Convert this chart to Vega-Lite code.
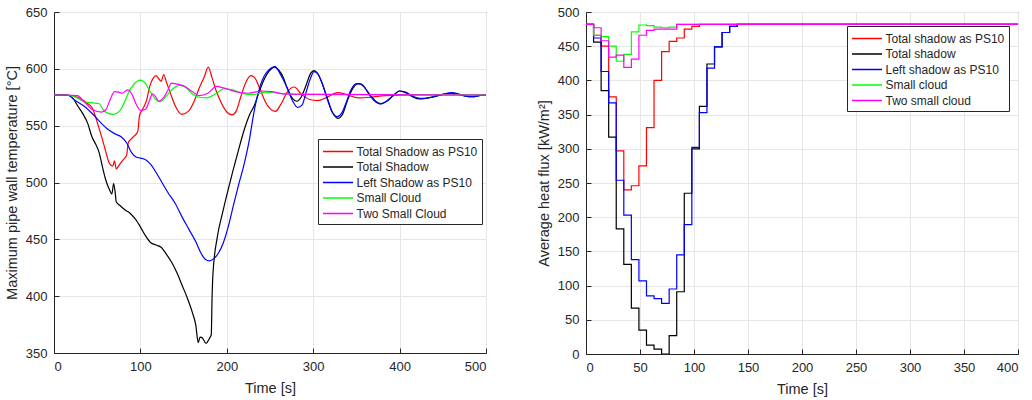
{
  "$schema": "https://vega.github.io/schema/vega-lite/v6.json",
  "autosize": {"type": "pad"},
  "padding": {"left": 3, "top": 5, "right": 5, "bottom": 5},
  "bounds": "flush",
  "spacing": 100,
  "config": {
    "font": "Liberation Sans",
    "view": {"stroke": "#262626", "strokeWidth": 1},
    "axis": {
      "domainColor": "#262626", "tickColor": "#262626", "gridColor": "#e6e6e6",
      "labelColor": "#262626", "titleColor": "#262626",
      "labelFont": "Liberation Sans", "titleFont": "Liberation Sans",
      "labelFontSize": 13, "titleFontSize": 14.5, "titleFontWeight": "normal",
      "tickSize": -5
    },
    "axisX": {"titlePadding": 8, "labelPadding": 12.5},
    "axisY": {"titlePadding": 6, "labelPadding": 12},
    "legend": {
      "labelFont": "Liberation Sans", "labelFontSize": 12, "labelColor": "#262626",
      "symbolType": "M-2,0H2", "symbolSize": 225, "symbolStrokeWidth": 1.5, "symbolOffset": 7.5,
      "strokeColor": "#262626", "fillColor": "white", "padding": 4,
      "rowPadding": 0.5, "labelOffset": 10, "cornerRadius": 0
    }
  },
  "datasets": {
    "temp": [
      {"series":"Total Shadow as PS10","time":0,"value":577},{"series":"Total Shadow as PS10","time":15,"value":577},{"series":"Total Shadow as PS10","time":30,"value":574},{"series":"Total Shadow as PS10","time":38,"value":570},{"series":"Total Shadow as PS10","time":44,"value":566},{"series":"Total Shadow as PS10","time":48,"value":558},{"series":"Total Shadow as PS10","time":52,"value":548},{"series":"Total Shadow as PS10","time":56,"value":538},{"series":"Total Shadow as PS10","time":60,"value":527},{"series":"Total Shadow as PS10","time":64,"value":517},{"series":"Total Shadow as PS10","time":68,"value":514.5},{"series":"Total Shadow as PS10","time":70,"value":519},{"series":"Total Shadow as PS10","time":72,"value":512},{"series":"Total Shadow as PS10","time":76,"value":516},{"series":"Total Shadow as PS10","time":80,"value":520},{"series":"Total Shadow as PS10","time":84,"value":524},{"series":"Total Shadow as PS10","time":86,"value":535},{"series":"Total Shadow as PS10","time":89,"value":538},{"series":"Total Shadow as PS10","time":93,"value":541},{"series":"Total Shadow as PS10","time":97,"value":545},{"series":"Total Shadow as PS10","time":99,"value":559},{"series":"Total Shadow as PS10","time":103,"value":565},{"series":"Total Shadow as PS10","time":107,"value":572},{"series":"Total Shadow as PS10","time":111,"value":585},{"series":"Total Shadow as PS10","time":115,"value":592},{"series":"Total Shadow as PS10","time":118,"value":594},{"series":"Total Shadow as PS10","time":121,"value":591.5},{"series":"Total Shadow as PS10","time":124,"value":589},{"series":"Total Shadow as PS10","time":127,"value":595},{"series":"Total Shadow as PS10","time":130,"value":588.5},{"series":"Total Shadow as PS10","time":135,"value":578},{"series":"Total Shadow as PS10","time":140,"value":568},{"series":"Total Shadow as PS10","time":148,"value":560},{"series":"Total Shadow as PS10","time":156,"value":563},{"series":"Total Shadow as PS10","time":162,"value":571},{"series":"Total Shadow as PS10","time":168,"value":583},{"series":"Total Shadow as PS10","time":174,"value":593},{"series":"Total Shadow as PS10","time":178.5,"value":601.5},{"series":"Total Shadow as PS10","time":183,"value":592},{"series":"Total Shadow as PS10","time":188,"value":580},{"series":"Total Shadow as PS10","time":193,"value":571},{"series":"Total Shadow as PS10","time":200,"value":562},{"series":"Total Shadow as PS10","time":206,"value":559.5},{"series":"Total Shadow as PS10","time":211,"value":563},{"series":"Total Shadow as PS10","time":216,"value":575},{"series":"Total Shadow as PS10","time":222,"value":588},{"series":"Total Shadow as PS10","time":228,"value":594},{"series":"Total Shadow as PS10","time":232,"value":592.5},{"series":"Total Shadow as PS10","time":238,"value":583},{"series":"Total Shadow as PS10","time":244,"value":572},{"series":"Total Shadow as PS10","time":250,"value":565},{"series":"Total Shadow as PS10","time":256,"value":562.5},{"series":"Total Shadow as PS10","time":262,"value":568},{"series":"Total Shadow as PS10","time":270,"value":579.5},{"series":"Total Shadow as PS10","time":278,"value":584},{"series":"Total Shadow as PS10","time":286,"value":578},{"series":"Total Shadow as PS10","time":296,"value":573},{"series":"Total Shadow as PS10","time":305,"value":572},{"series":"Total Shadow as PS10","time":316,"value":575},{"series":"Total Shadow as PS10","time":328,"value":579},{"series":"Total Shadow as PS10","time":340,"value":577},{"series":"Total Shadow as PS10","time":352,"value":574.5},{"series":"Total Shadow as PS10","time":367,"value":575},{"series":"Total Shadow as PS10","time":383,"value":576.5},{"series":"Total Shadow as PS10","time":420,"value":577},{"series":"Total Shadow as PS10","time":500,"value":577},

      {"series":"Total Shadow","time":0,"value":577},{"series":"Total Shadow","time":15,"value":577},{"series":"Total Shadow","time":22,"value":574},{"series":"Total Shadow","time":27,"value":568},{"series":"Total Shadow","time":33,"value":561},{"series":"Total Shadow","time":39,"value":552},{"series":"Total Shadow","time":44,"value":540},{"series":"Total Shadow","time":48,"value":534},{"series":"Total Shadow","time":52,"value":527},{"series":"Total Shadow","time":56,"value":514},{"series":"Total Shadow","time":60,"value":502},{"series":"Total Shadow","time":64,"value":494},{"series":"Total Shadow","time":67,"value":490},{"series":"Total Shadow","time":69,"value":499},{"series":"Total Shadow","time":71,"value":490},{"series":"Total Shadow","time":72,"value":483},{"series":"Total Shadow","time":76,"value":480},{"series":"Total Shadow","time":82,"value":476},{"series":"Total Shadow","time":88,"value":473},{"series":"Total Shadow","time":94,"value":468},{"series":"Total Shadow","time":100,"value":461},{"series":"Total Shadow","time":106,"value":453},{"series":"Total Shadow","time":112,"value":447},{"series":"Total Shadow","time":118,"value":445},{"series":"Total Shadow","time":124,"value":443},{"series":"Total Shadow","time":130,"value":437},{"series":"Total Shadow","time":136,"value":430},{"series":"Total Shadow","time":142,"value":421},{"series":"Total Shadow","time":148,"value":410},{"series":"Total Shadow","time":154,"value":399},{"series":"Total Shadow","time":160,"value":386},{"series":"Total Shadow","time":164,"value":375},{"series":"Total Shadow","time":167,"value":359},{"series":"Total Shadow","time":169,"value":364},{"series":"Total Shadow","time":172,"value":363},{"series":"Total Shadow","time":176,"value":358.5},{"series":"Total Shadow","time":180,"value":363},{"series":"Total Shadow","time":182,"value":366},{"series":"Total Shadow","time":183,"value":400},{"series":"Total Shadow","time":184,"value":420},{"series":"Total Shadow","time":189,"value":452},{"series":"Total Shadow","time":195,"value":473},{"series":"Total Shadow","time":201,"value":492},{"series":"Total Shadow","time":207,"value":510},{"series":"Total Shadow","time":213,"value":527},{"series":"Total Shadow","time":220,"value":546},{"series":"Total Shadow","time":226,"value":559},{"series":"Total Shadow","time":232,"value":568},{"series":"Total Shadow","time":238,"value":581},{"series":"Total Shadow","time":244,"value":592},{"series":"Total Shadow","time":250,"value":599},{"series":"Total Shadow","time":255,"value":601.5},{"series":"Total Shadow","time":260,"value":599},{"series":"Total Shadow","time":265,"value":593},{"series":"Total Shadow","time":270,"value":583},{"series":"Total Shadow","time":276,"value":574},{"series":"Total Shadow","time":281,"value":571.5},{"series":"Total Shadow","time":286,"value":575},{"series":"Total Shadow","time":292,"value":586},{"series":"Total Shadow","time":297,"value":596},{"series":"Total Shadow","time":301,"value":598.5},{"series":"Total Shadow","time":305,"value":596},{"series":"Total Shadow","time":310,"value":588},{"series":"Total Shadow","time":316,"value":575},{"series":"Total Shadow","time":322,"value":562},{"series":"Total Shadow","time":329,"value":556.5},{"series":"Total Shadow","time":334,"value":560},{"series":"Total Shadow","time":340,"value":573},{"series":"Total Shadow","time":346,"value":583},{"series":"Total Shadow","time":352,"value":587},{"series":"Total Shadow","time":357,"value":586},{"series":"Total Shadow","time":362,"value":581},{"series":"Total Shadow","time":368,"value":575},{"series":"Total Shadow","time":373,"value":571},{"series":"Total Shadow","time":378,"value":569.5},{"series":"Total Shadow","time":385,"value":571.5},{"series":"Total Shadow","time":392,"value":576},{"series":"Total Shadow","time":400,"value":580.5},{"series":"Total Shadow","time":407,"value":579},{"series":"Total Shadow","time":415,"value":575.5},{"series":"Total Shadow","time":423,"value":573.5},{"series":"Total Shadow","time":430,"value":574},{"series":"Total Shadow","time":440,"value":575.5},{"series":"Total Shadow","time":450,"value":577.5},{"series":"Total Shadow","time":460,"value":578.5},{"series":"Total Shadow","time":468,"value":577.5},{"series":"Total Shadow","time":476,"value":576},{"series":"Total Shadow","time":485,"value":575.5},{"series":"Total Shadow","time":492,"value":576.5},{"series":"Total Shadow","time":500,"value":577},

      {"series":"Left Shadow as PS10","time":0,"value":577},{"series":"Left Shadow as PS10","time":15,"value":577},{"series":"Left Shadow as PS10","time":25,"value":572},{"series":"Left Shadow as PS10","time":35,"value":567},{"series":"Left Shadow as PS10","time":45,"value":560},{"series":"Left Shadow as PS10","time":55,"value":552},{"series":"Left Shadow as PS10","time":62,"value":547},{"series":"Left Shadow as PS10","time":70,"value":543},{"series":"Left Shadow as PS10","time":78,"value":540},{"series":"Left Shadow as PS10","time":84,"value":535},{"series":"Left Shadow as PS10","time":90,"value":526},{"series":"Left Shadow as PS10","time":95,"value":522.5},{"series":"Left Shadow as PS10","time":100,"value":521.5},{"series":"Left Shadow as PS10","time":106,"value":520},{"series":"Left Shadow as PS10","time":112,"value":516},{"series":"Left Shadow as PS10","time":118,"value":509},{"series":"Left Shadow as PS10","time":125,"value":500},{"series":"Left Shadow as PS10","time":132,"value":491},{"series":"Left Shadow as PS10","time":140,"value":482},{"series":"Left Shadow as PS10","time":148,"value":470},{"series":"Left Shadow as PS10","time":156,"value":459},{"series":"Left Shadow as PS10","time":164,"value":448},{"series":"Left Shadow as PS10","time":170,"value":438},{"series":"Left Shadow as PS10","time":175,"value":432.5},{"series":"Left Shadow as PS10","time":180,"value":431},{"series":"Left Shadow as PS10","time":185,"value":433},{"series":"Left Shadow as PS10","time":190,"value":437.5},{"series":"Left Shadow as PS10","time":196,"value":447},{"series":"Left Shadow as PS10","time":202,"value":462},{"series":"Left Shadow as PS10","time":208,"value":481},{"series":"Left Shadow as PS10","time":214,"value":499},{"series":"Left Shadow as PS10","time":220,"value":516},{"series":"Left Shadow as PS10","time":226,"value":537},{"series":"Left Shadow as PS10","time":231,"value":560},{"series":"Left Shadow as PS10","time":236,"value":578},{"series":"Left Shadow as PS10","time":241,"value":590},{"series":"Left Shadow as PS10","time":246,"value":597},{"series":"Left Shadow as PS10","time":252,"value":601},{"series":"Left Shadow as PS10","time":256,"value":602},{"series":"Left Shadow as PS10","time":260,"value":598},{"series":"Left Shadow as PS10","time":265,"value":591},{"series":"Left Shadow as PS10","time":270,"value":583},{"series":"Left Shadow as PS10","time":276,"value":572},{"series":"Left Shadow as PS10","time":282,"value":566},{"series":"Left Shadow as PS10","time":287,"value":568},{"series":"Left Shadow as PS10","time":292,"value":580},{"series":"Left Shadow as PS10","time":297,"value":592},{"series":"Left Shadow as PS10","time":301,"value":597.5},{"series":"Left Shadow as PS10","time":305,"value":596},{"series":"Left Shadow as PS10","time":310,"value":588},{"series":"Left Shadow as PS10","time":316,"value":574},{"series":"Left Shadow as PS10","time":322,"value":562},{"series":"Left Shadow as PS10","time":328,"value":558},{"series":"Left Shadow as PS10","time":333,"value":561},{"series":"Left Shadow as PS10","time":338,"value":570},{"series":"Left Shadow as PS10","time":344,"value":582},{"series":"Left Shadow as PS10","time":350,"value":587},{"series":"Left Shadow as PS10","time":355,"value":586.5},{"series":"Left Shadow as PS10","time":360,"value":583},{"series":"Left Shadow as PS10","time":366,"value":576},{"series":"Left Shadow as PS10","time":372,"value":571},{"series":"Left Shadow as PS10","time":378,"value":569},{"series":"Left Shadow as PS10","time":385,"value":571.5},{"series":"Left Shadow as PS10","time":392,"value":576},{"series":"Left Shadow as PS10","time":400,"value":580.5},{"series":"Left Shadow as PS10","time":407,"value":579.5},{"series":"Left Shadow as PS10","time":415,"value":576},{"series":"Left Shadow as PS10","time":423,"value":574},{"series":"Left Shadow as PS10","time":430,"value":574},{"series":"Left Shadow as PS10","time":440,"value":575.5},{"series":"Left Shadow as PS10","time":450,"value":577.5},{"series":"Left Shadow as PS10","time":460,"value":579},{"series":"Left Shadow as PS10","time":468,"value":578},{"series":"Left Shadow as PS10","time":476,"value":576},{"series":"Left Shadow as PS10","time":485,"value":575.5},{"series":"Left Shadow as PS10","time":492,"value":576.5},{"series":"Left Shadow as PS10","time":500,"value":577},

      {"series":"Small Cloud","time":0,"value":577},{"series":"Small Cloud","time":15,"value":577},{"series":"Small Cloud","time":25,"value":575},{"series":"Small Cloud","time":35,"value":571},{"series":"Small Cloud","time":45,"value":570},{"series":"Small Cloud","time":52,"value":569.5},{"series":"Small Cloud","time":57,"value":564},{"series":"Small Cloud","time":62,"value":561},{"series":"Small Cloud","time":69,"value":560},{"series":"Small Cloud","time":76,"value":563},{"series":"Small Cloud","time":80,"value":568},{"series":"Small Cloud","time":85,"value":577},{"series":"Small Cloud","time":92,"value":586},{"series":"Small Cloud","time":100,"value":590},{"series":"Small Cloud","time":106,"value":587},{"series":"Small Cloud","time":112,"value":579},{"series":"Small Cloud","time":118,"value":573},{"series":"Small Cloud","time":123,"value":571},{"series":"Small Cloud","time":130,"value":576},{"series":"Small Cloud","time":137,"value":582},{"series":"Small Cloud","time":145,"value":585.5},{"series":"Small Cloud","time":152,"value":584},{"series":"Small Cloud","time":160,"value":578},{"series":"Small Cloud","time":168,"value":575},{"series":"Small Cloud","time":177,"value":574.5},{"series":"Small Cloud","time":187,"value":578},{"series":"Small Cloud","time":197,"value":582.5},{"series":"Small Cloud","time":207,"value":581.5},{"series":"Small Cloud","time":220,"value":578},{"series":"Small Cloud","time":232,"value":577.5},{"series":"Small Cloud","time":245,"value":579.5},{"series":"Small Cloud","time":260,"value":578.5},{"series":"Small Cloud","time":280,"value":577.5},{"series":"Small Cloud","time":300,"value":577.5},{"series":"Small Cloud","time":500,"value":577},

      {"series":"Two Small Cloud","time":0,"value":577},{"series":"Two Small Cloud","time":15,"value":577},{"series":"Two Small Cloud","time":27,"value":576.5},{"series":"Two Small Cloud","time":35,"value":571},{"series":"Two Small Cloud","time":45,"value":564},{"series":"Two Small Cloud","time":55,"value":562},{"series":"Two Small Cloud","time":60,"value":564},{"series":"Two Small Cloud","time":65,"value":573},{"series":"Two Small Cloud","time":70,"value":580},{"series":"Two Small Cloud","time":75,"value":579.5},{"series":"Two Small Cloud","time":79,"value":578.5},{"series":"Two Small Cloud","time":85,"value":581.5},{"series":"Two Small Cloud","time":90,"value":578},{"series":"Two Small Cloud","time":95,"value":569},{"series":"Two Small Cloud","time":100,"value":563.5},{"series":"Two Small Cloud","time":106,"value":564.5},{"series":"Two Small Cloud","time":110,"value":571},{"series":"Two Small Cloud","time":114,"value":578},{"series":"Two Small Cloud","time":118,"value":575},{"series":"Two Small Cloud","time":121,"value":571.5},{"series":"Two Small Cloud","time":126,"value":574},{"series":"Two Small Cloud","time":131,"value":580},{"series":"Two Small Cloud","time":136,"value":587.5},{"series":"Two Small Cloud","time":143,"value":586.5},{"series":"Two Small Cloud","time":150,"value":585},{"series":"Two Small Cloud","time":160,"value":580},{"series":"Two Small Cloud","time":168,"value":576.5},{"series":"Two Small Cloud","time":178,"value":578.5},{"series":"Two Small Cloud","time":188,"value":584.5},{"series":"Two Small Cloud","time":197,"value":583},{"series":"Two Small Cloud","time":210,"value":580},{"series":"Two Small Cloud","time":225,"value":578.5},{"series":"Two Small Cloud","time":240,"value":580.5},{"series":"Two Small Cloud","time":252,"value":580},{"series":"Two Small Cloud","time":265,"value":578},{"series":"Two Small Cloud","time":300,"value":577.5},{"series":"Two Small Cloud","time":500,"value":577}
    ],
    "flux": [
      {"series":"Total shadow as PS10","time":0,"value":482},{"series":"Total shadow as PS10","time":7,"value":466},{"series":"Total shadow as PS10","time":14,"value":450},{"series":"Total shadow as PS10","time":21,"value":376},{"series":"Total shadow as PS10","time":28,"value":297},{"series":"Total shadow as PS10","time":35,"value":240},{"series":"Total shadow as PS10","time":42,"value":246},{"series":"Total shadow as PS10","time":49,"value":275},{"series":"Total shadow as PS10","time":56,"value":331},{"series":"Total shadow as PS10","time":63,"value":400},{"series":"Total shadow as PS10","time":70,"value":442},{"series":"Total shadow as PS10","time":77,"value":457},{"series":"Total shadow as PS10","time":84,"value":462},{"series":"Total shadow as PS10","time":91,"value":475},{"series":"Total shadow as PS10","time":98,"value":479},{"series":"Total shadow as PS10","time":105,"value":482},{"series":"Total shadow as PS10","time":400,"value":482},

      {"series":"Total shadow","time":0,"value":482},{"series":"Total shadow","time":7,"value":456},{"series":"Total shadow","time":14,"value":385},{"series":"Total shadow","time":21,"value":317},{"series":"Total shadow","time":28,"value":183},{"series":"Total shadow","time":35,"value":131},{"series":"Total shadow","time":42,"value":67},{"series":"Total shadow","time":49,"value":35},{"series":"Total shadow","time":56,"value":13},{"series":"Total shadow","time":63,"value":7},{"series":"Total shadow","time":70,"value":0},{"series":"Total shadow","time":77,"value":27},{"series":"Total shadow","time":84,"value":91},{"series":"Total shadow","time":91,"value":235},{"series":"Total shadow","time":98,"value":300},{"series":"Total shadow","time":105,"value":362},{"series":"Total shadow","time":112,"value":424},{"series":"Total shadow","time":119,"value":449},{"series":"Total shadow","time":126,"value":470},{"series":"Total shadow","time":133,"value":479},{"series":"Total shadow","time":140,"value":482},{"series":"Total shadow","time":400,"value":482},

      {"series":"Left shadow as PS10","time":0,"value":482},{"series":"Left shadow as PS10","time":7,"value":462},{"series":"Left shadow as PS10","time":14,"value":413},{"series":"Left shadow as PS10","time":21,"value":367},{"series":"Left shadow as PS10","time":28,"value":254},{"series":"Left shadow as PS10","time":35,"value":203},{"series":"Left shadow as PS10","time":42,"value":138},{"series":"Left shadow as PS10","time":49,"value":107},{"series":"Left shadow as PS10","time":56,"value":85},{"series":"Left shadow as PS10","time":63,"value":81},{"series":"Left shadow as PS10","time":70,"value":74},{"series":"Left shadow as PS10","time":77,"value":95},{"series":"Left shadow as PS10","time":84,"value":145},{"series":"Left shadow as PS10","time":91,"value":189},{"series":"Left shadow as PS10","time":98,"value":302},{"series":"Left shadow as PS10","time":105,"value":353},{"series":"Left shadow as PS10","time":112,"value":418},{"series":"Left shadow as PS10","time":119,"value":449},{"series":"Left shadow as PS10","time":126,"value":470},{"series":"Left shadow as PS10","time":133,"value":479},{"series":"Left shadow as PS10","time":140,"value":482},{"series":"Left shadow as PS10","time":400,"value":482},

      {"series":"Small cloud","time":0,"value":482},{"series":"Small cloud","time":7,"value":466},{"series":"Small cloud","time":14,"value":464},{"series":"Small cloud","time":21,"value":450},{"series":"Small cloud","time":28,"value":428},{"series":"Small cloud","time":35,"value":438},{"series":"Small cloud","time":42,"value":471},{"series":"Small cloud","time":49,"value":481},{"series":"Small cloud","time":56,"value":480},{"series":"Small cloud","time":63,"value":478},{"series":"Small cloud","time":70,"value":477},{"series":"Small cloud","time":77,"value":478},{"series":"Small cloud","time":84,"value":482},{"series":"Small cloud","time":400,"value":482},

      {"series":"Two small cloud","time":0,"value":482},{"series":"Two small cloud","time":7,"value":477},{"series":"Two small cloud","time":14,"value":458},{"series":"Two small cloud","time":21,"value":434},{"series":"Two small cloud","time":28,"value":437},{"series":"Two small cloud","time":35,"value":419},{"series":"Two small cloud","time":42,"value":431},{"series":"Two small cloud","time":49,"value":466},{"series":"Two small cloud","time":56,"value":473},{"series":"Two small cloud","time":63,"value":475},{"series":"Two small cloud","time":84,"value":482},{"series":"Two small cloud","time":400,"value":482}
    ]
  },
  "hconcat": [
    {
      "width": 432, "height": 341,
      "data": {"name": "temp"},
      "mark": {"type": "line", "interpolate": "monotone", "strokeWidth": 1.2, "clip": true},
      "encoding": {
        "x": {"field": "time", "type": "quantitative", "scale": {"domain": [0, 500], "nice": false}, "axis": {"title": "Time [s]", "values": [0, 100, 200, 300, 400, 500]}},
        "y": {"field": "value", "type": "quantitative", "scale": {"domain": [350, 650], "nice": false, "zero": false}, "axis": {"title": "Maximum pipe wall temperature [°C]", "values": [350, 400, 450, 500, 550, 600, 650]}},
        "color": {"field": "series", "type": "nominal",
          "scale": {"domain": ["Total Shadow as PS10", "Total Shadow", "Left Shadow as PS10", "Small Cloud", "Two Small Cloud"], "range": ["#ff0000", "#000000", "#0000ff", "#00ff00", "#ff00ff"]},
          "legend": {"title": null, "orient": "none", "legendX": 264, "legendY": 127}},
        "order": {"field": "time", "type": "quantitative"}
      }
    },
    {
      "width": 432, "height": 342,
      "data": {"name": "flux"},
      "mark": {"type": "line", "interpolate": "step-after", "strokeWidth": 1.2, "clip": true},
      "encoding": {
        "x": {"field": "time", "type": "quantitative", "scale": {"domain": [0, 400], "nice": false}, "axis": {"title": "Time [s]", "values": [0, 50, 100, 150, 200, 250, 300, 350, 400]}},
        "y": {"field": "value", "type": "quantitative", "scale": {"domain": [0, 500], "nice": false}, "axis": {"title": "Average heat flux [kW/m²]", "values": [0, 50, 100, 150, 200, 250, 300, 350, 400, 450, 500]}},
        "color": {"field": "series", "type": "nominal",
          "scale": {"domain": ["Total shadow as PS10", "Total shadow", "Left shadow as PS10", "Small cloud", "Two small cloud"], "range": ["#ff0000", "#000000", "#0000ff", "#00ff00", "#ff00ff"]},
          "legend": {"title": null, "orient": "none", "legendX": 261, "legendY": 14}},
        "order": {"field": "time", "type": "quantitative"}
      }
    }
  ],
  "resolve": {"scale": {"color": "independent"}, "legend": {"color": "independent"}}
}
